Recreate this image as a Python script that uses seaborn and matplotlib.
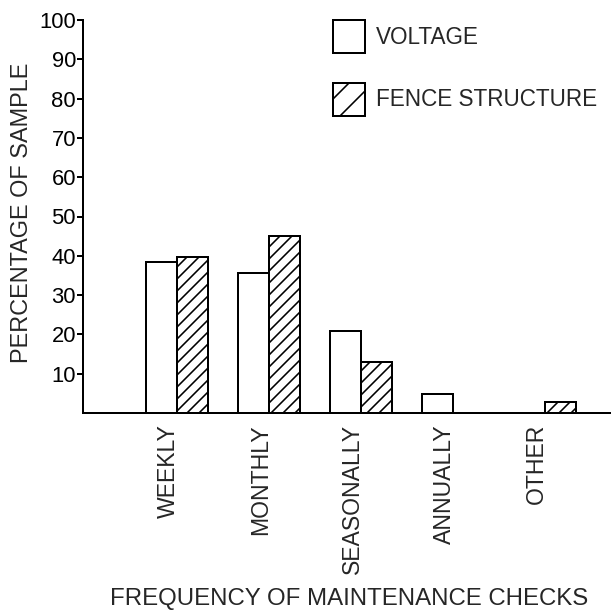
import numpy as np
import pandas as pd
import matplotlib
matplotlib.use('Agg')
import matplotlib.pyplot as plt
import matplotlib.transforms as mtransforms
from matplotlib.patches import Patch
import seaborn as sns

# Дані
categories = ['WEEKLY', 'MONTHLY', 'SEASONALLY', 'ANNUALLY', 'OTHER']
voltage = [38.4, 35.6, 20.9, 4.8, 0.0]
fence = [39.7, 45.0, 13.0, 0.0, 2.8]
series = ['VOLTAGE', 'FENCE STRUCTURE']
y_ticks = [10, 20, 30, 40, 50, 60, 70, 80, 90, 100]

df = pd.DataFrame({
    'category': categories * 2,
    'series': [series[0]] * len(categories) + [series[1]] * len(categories),
    'value': voltage + fence,
})

sns.set_style('ticks')
plt.rcParams['font.family'] = ['Liberation Sans', 'DejaVu Sans']
plt.rcParams['hatch.linewidth'] = 1.6
plt.rcParams['hatch.color'] = 'black'

fig = plt.figure(figsize=(611 / 72, 613 / 72), dpi=72)
ax = fig.add_axes([83 / 611, 200 / 613, 1 - 83 / 611, 393 / 613])

sns.barplot(data=df, x='category', y='value', hue='series', hue_order=series,
            order=categories, palette=['white', 'white'], edgecolor='black',
            linewidth=2, width=0.67, saturation=1, legend=False, ax=ax)

# штрихування для огорожі
for bar in ax.containers[1]:
    bar.set_hatch('//')

ax.set_xlim(-1.02, 4.72)
ax.set_ylim(0, 100)
ax.set_yticks(y_ticks)
ax.set_yticklabels([str(t) for t in y_ticks], fontsize=22)
ax.tick_params(axis='y', length=6, width=2, pad=1, colors='black')
ax.tick_params(axis='x', length=0, pad=11, labelsize=23)
for lab in ax.get_xticklabels():
    lab.set_rotation(90)
    lab.set_va('top')
    lab.set_ha('center')
    lab.set_transform(lab.get_transform() +
                      mtransforms.ScaledTranslation(-8 / 72, 0, fig.dpi_scale_trans))

sns.despine(ax=ax)
for side in ['left', 'bottom']:
    ax.spines[side].set_linewidth(2)
    ax.spines[side].set_color('black')

ax.set_ylabel('PERCENTAGE OF SAMPLE', fontsize=23.5)
ax.yaxis.set_label_coords(-0.095, 0.51)
ax.set_xlabel('FREQUENCY OF MAINTENANCE CHECKS', fontsize=24)
ax.xaxis.set_label_coords(0.504, -0.445)

handles = [Patch(facecolor='white', edgecolor='black', linewidth=2),
           Patch(facecolor='white', edgecolor='black', linewidth=2, hatch='/')]
fig.legend(handles, series, loc='upper left',
           bbox_to_anchor=(333 / 611, 1 - 20 / 613), bbox_transform=fig.transFigure,
           frameon=False, fontsize=22.5, handlelength=1.42, handleheight=1.87,
           handletextpad=0.5, labelspacing=1.33, borderpad=0, borderaxespad=0)

fig.savefig('out.png', dpi=72)
